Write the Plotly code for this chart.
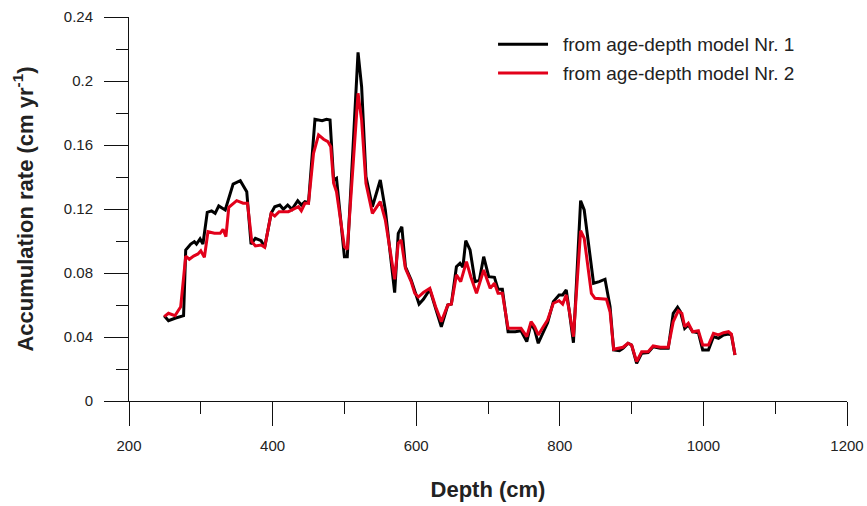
import plotly.graph_objects as go

# ---- data ----
depth_1 = [249, 255, 264, 276, 279, 286, 291, 294, 299, 303, 309, 315, 320, 325, 334, 345, 355, 364,
           370, 376, 384, 389, 398, 403, 410, 415, 421, 427, 435, 440, 445, 450, 459, 465, 469, 475,
           480, 485, 489, 500, 504, 519, 524, 530, 539, 550, 557, 570, 575, 580, 585, 593, 598, 604,
           610, 619, 627, 635, 644, 649, 656, 661, 665, 669, 675, 682, 688, 694, 701, 709, 714, 720,
           728, 738, 746, 754, 760, 765, 770, 777, 783, 791, 799, 804, 809, 813, 819, 829, 834, 847,
           855, 863, 870, 875, 883, 888, 895, 900, 907, 914, 923, 930, 940, 951, 958, 964, 968, 974,
           979, 985, 993, 999, 1007, 1014, 1021, 1028, 1035, 1039, 1044]
rate_1 = [0.0533, 0.0502, 0.0517, 0.0533, 0.0944, 0.0981, 0.0996, 0.0981, 0.1013, 0.0981, 0.1179,
          0.1188, 0.1173, 0.1219, 0.1194, 0.1356, 0.1377, 0.1308, 0.0981, 0.1017, 0.1002, 0.0961,
          0.1173, 0.1214, 0.1225, 0.1198, 0.1225, 0.1198, 0.1252, 0.1225, 0.1246, 0.1239, 0.1761,
          0.1756, 0.1752, 0.1761, 0.1756, 0.1381, 0.1392, 0.0902, 0.0902, 0.2179, 0.1964, 0.1402,
          0.1214, 0.1381, 0.1194, 0.0677, 0.1048, 0.1089, 0.0839, 0.0756, 0.0694, 0.0606, 0.0636,
          0.0698, 0.0579, 0.0464, 0.0600, 0.0606, 0.0839, 0.0861, 0.0836, 0.1002, 0.0944, 0.0746,
          0.0756, 0.0902, 0.0777, 0.0773, 0.0698, 0.0698, 0.0433, 0.0433, 0.0439, 0.0371, 0.0486,
          0.0444, 0.0361, 0.0433, 0.0489, 0.0621, 0.0663, 0.0663, 0.0694, 0.0569, 0.0364, 0.1252,
          0.1194, 0.0736, 0.0746, 0.0761, 0.0589, 0.0319, 0.0314, 0.0329, 0.0361, 0.0350, 0.0236,
          0.0298, 0.0302, 0.0339, 0.0329, 0.0329, 0.0548, 0.0586, 0.0558, 0.0454, 0.0475, 0.0433,
          0.0427, 0.0319, 0.0319, 0.0402, 0.0392, 0.0413, 0.0419, 0.0413, 0.0288]

depth_2 = [249, 255, 264, 272, 279, 284, 290, 296, 300, 305, 310, 319, 327, 331, 335, 339, 350, 359,
           365, 371, 376, 384, 389, 398, 403, 409, 422, 431, 436, 440, 445, 450, 457, 464, 471, 477,
           481, 485, 489, 500, 504, 519, 524, 530, 539, 550, 557, 570, 575, 579, 585, 593, 598, 603,
           610, 619, 627, 635, 644, 649, 656, 662, 670, 676, 684, 694, 703, 709, 714, 720, 728, 738,
           746, 754, 760, 765, 770, 777, 783, 791, 799, 804, 809, 813, 819, 829, 834, 844, 849, 865,
           870, 875, 883, 888, 895, 900, 907, 914, 923, 930, 940, 951, 958, 965, 970, 974, 979, 985,
           993, 999, 1007, 1014, 1021, 1028, 1035, 1039, 1044]
rate_2 = [0.0527, 0.0548, 0.0533, 0.0589, 0.0906, 0.0886, 0.0906, 0.0919, 0.0939, 0.0898, 0.1058,
          0.1048, 0.1048, 0.1073, 0.1027, 0.1211, 0.1252, 0.1236, 0.1236, 0.0996, 0.0969, 0.0975,
          0.0961, 0.1173, 0.1156, 0.1183, 0.1183, 0.1206, 0.1214, 0.1189, 0.1236, 0.1236, 0.1548,
          0.1663, 0.1636, 0.1621, 0.1589, 0.1361, 0.1308, 0.0964, 0.0948, 0.1923, 0.1756, 0.1361,
          0.1173, 0.1246, 0.1131, 0.0761, 0.0986, 0.1006, 0.0829, 0.0746, 0.0673, 0.0650, 0.0678,
          0.0704, 0.0589, 0.0496, 0.0600, 0.0606, 0.0788, 0.0746, 0.0871, 0.0777, 0.0673, 0.0819,
          0.0704, 0.0736, 0.0673, 0.0673, 0.0454, 0.0454, 0.0454, 0.0402, 0.0496, 0.0464, 0.0413,
          0.0464, 0.0506, 0.0611, 0.0627, 0.0606, 0.0663, 0.0569, 0.0402, 0.1064, 0.1017, 0.0673,
          0.0642, 0.0636, 0.0558, 0.0323, 0.0329, 0.0336, 0.0361, 0.0350, 0.0246, 0.0308, 0.0308,
          0.0344, 0.0336, 0.0336, 0.0496, 0.0564, 0.0548, 0.0464, 0.0486, 0.0433, 0.0439, 0.0350,
          0.0350, 0.0423, 0.0413, 0.0427, 0.0433, 0.0419, 0.0288]

series_names = ["from age-depth model Nr. 1", "from age-depth model Nr. 2"]
series_colors = ["#000000", "#e2001a"]
x_ticks = [200, 400, 600, 800, 1000, 1200]
y_ticks = [0, 0.04, 0.08, 0.12, 0.16, 0.2, 0.24]

FONT = "Liberation Sans, Arial, sans-serif"

fig = go.Figure()
for d, r, name, col in zip([depth_1, depth_2], [rate_1, rate_2], series_names, series_colors):
    fig.add_trace(go.Scatter(x=d, y=r, mode="lines", name=name, showlegend=False,
                             line=dict(color=col, width=3)))

# manual legend (sample lines + labels)
legend_y = [0.929, 0.854]
for yy, name, col in zip(legend_y, series_names, series_colors):
    fig.add_shape(type="line", xref="paper", yref="paper", x0=0.514, x1=0.5836, y0=yy, y1=yy,
                  line=dict(color=col, width=3))
    fig.add_annotation(xref="paper", yref="paper", x=0.601, y=yy, xanchor="left", yanchor="middle",
                       text=name, showarrow=False, font=dict(family=FONT, size=19, color="#222222"))

axis_common = dict(showline=True, linecolor="#111111", linewidth=1, showgrid=False, zeroline=False,
                   ticks="outside", ticklen=24, tickwidth=1, tickcolor="#111111",
                   tickfont=dict(family=FONT, size=15, color="#222222"), automargin=False)

fig.update_xaxes(range=[200, 1200], tickvals=x_ticks, ticklabelstandoff=7,
                 minor=dict(dtick=100, ticklen=12, tickcolor="#111111", ticks="outside"),
                 title=dict(text="<b>Depth (cm)</b>", font=dict(family=FONT, size=22, color="#222222"),
                            standoff=28),
                 **axis_common)
fig.update_yaxes(range=[0, 0.24], tickvals=y_ticks, ticklabelstandoff=8,
                 minor=dict(dtick=0.02, ticklen=12, tickcolor="#111111", ticks="outside"),
                 title=dict(text="<b>Accumulation rate (cm yr<sup>-1</sup>)</b>",
                            font=dict(family=FONT, size=22, color="#222222"), standoff=24),
                 **axis_common)

fig.update_layout(width=867, height=506, margin=dict(l=129, r=20, t=17, b=105),
                  paper_bgcolor="white", plot_bgcolor="white", font=dict(family=FONT))

fig.write_html("out.html")
